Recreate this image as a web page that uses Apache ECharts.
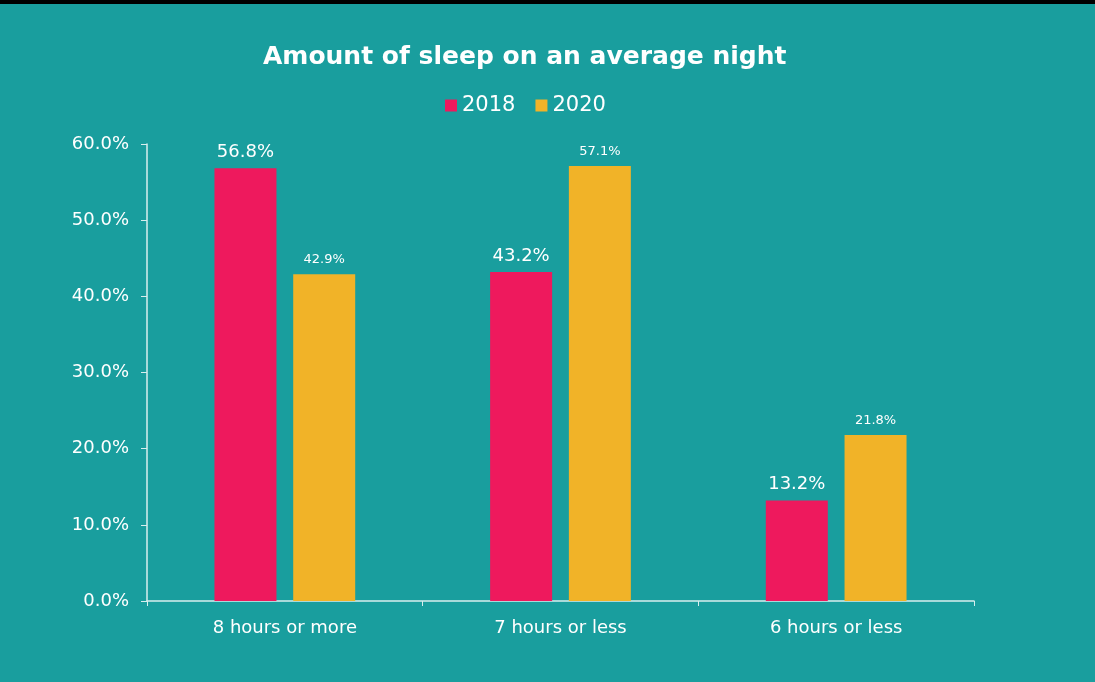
<!DOCTYPE html>
<html>
<head>
<meta charset="utf-8">
<script src="https://cdn.jsdelivr.net/npm/echarts@6/dist/echarts.min.js"></script>
<style>
  html, body { margin: 0; padding: 0; background: #000; }
  #chart { position: absolute; top: 4px; left: 0; width: 1095px; height: 678px; background: #199e9e; }
</style>
</head>
<body>
<div id="chart"></div>
<script>
const categories = ['8 hours or more', '7 hours or less', '6 hours or less'];
const seriesNames = ['2018', '2020'];
const values2018 = [56.8, 43.2, 13.2];
const values2020 = [42.9, 57.1, 21.8];
const yTicks = [0, 10, 20, 30, 40, 50, 60];

const FONT = '"DejaVu Sans", "Open Sans", sans-serif';
const chart = echarts.init(document.getElementById('chart'), null, { renderer: 'canvas' });

chart.setOption({
  backgroundColor: '#199e9e',
  animation: false,
  title: {
    text: 'Amount of sleep on an average night',
    left: 258,
    top: 36,
    textStyle: { color: '#ffffff', fontFamily: FONT, fontWeight: 'bold', fontSize: 25 }
  },
  legend: {
    data: seriesNames,
    top: 86,
    left: 440,
    itemWidth: 12,
    itemHeight: 12,
    itemGap: 20,
    icon: 'rect',
    textStyle: { color: '#ffffff', fontFamily: FONT, fontSize: 21 }
  },
  grid: { left: 147, right: 121, top: 140, bottom: 81, containLabel: false },
  xAxis: {
    type: 'category',
    data: categories,
    axisLine: { lineStyle: { color: '#d8eeee', width: 1.5 } },
    axisTick: { show: true, length: 5, lineStyle: { color: '#d8eeee' } },
    axisLabel: { color: '#ffffff', fontFamily: FONT, fontSize: 18, margin: 18 }
  },
  yAxis: {
    type: 'value',
    min: yTicks[0],
    max: yTicks[yTicks.length - 1],
    interval: 10,
    splitLine: { show: false },
    axisLine: { show: true, lineStyle: { color: '#d8eeee', width: 1.5 } },
    axisTick: { show: true, length: 6, lineStyle: { color: '#d8eeee' } },
    axisLabel: {
      color: '#ffffff', fontFamily: FONT, fontSize: 18, margin: 18,
      formatter: v => v.toFixed(1) + '%'
    }
  },
  series: [
    {
      name: seriesNames[0],
      type: 'bar',
      data: values2018,
      barWidth: 62,
      barGap: '27%',
      itemStyle: { color: '#ee195d' },
      label: {
        show: true, position: 'top', distance: 7,
        color: '#ffffff', fontFamily: FONT, fontSize: 18,
        formatter: p => p.value.toFixed(1) + '%'
      }
    },
    {
      name: seriesNames[1],
      type: 'bar',
      data: values2020,
      barWidth: 62,
      itemStyle: { color: '#f1b328' },
      label: {
        show: true, position: 'top', distance: 8,
        color: '#ffffff', fontFamily: FONT, fontSize: 13,
        formatter: p => p.value.toFixed(1) + '%'
      }
    }
  ]
});
</script>
</body>
</html>
